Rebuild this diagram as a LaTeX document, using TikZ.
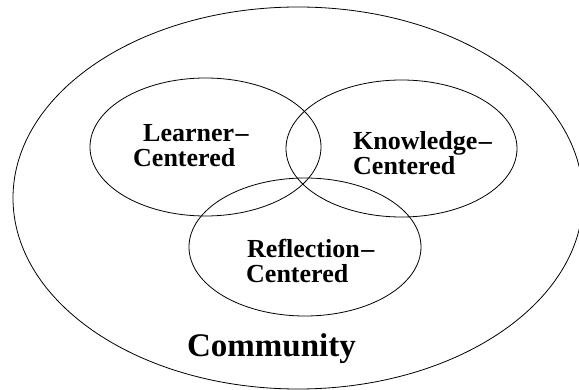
\documentclass[tikz,border=0pt]{standalone}
\usepackage{fontspec}
\setmainfont{Liberation Serif}
\usetikzlibrary{shapes.geometric}
\newcommand{\hyph}{\kern1.5pt–}
\begin{document}
\begin{tikzpicture}[x=1pt,y=-1pt,
  ring/.style={draw=black, line width=0.8pt, ellipse, inner sep=0pt},
  area/.style={ring, minimum width=231pt, minimum height=138pt},
  lbl/.style={font=\fontsize{26}{28}\selectfont\bfseries, inner sep=0pt, anchor=base west},
  title/.style={font=\fontsize{33}{35}\selectfont\bfseries, inner sep=0pt, anchor=base}]
  \useasboundingbox (0,0) rectangle (579,390);
  \clip (0,0) rectangle (579,390);

  % community boundary
  \node[ring, minimum width=570pt, minimum height=382pt] (community) at (298,198) {};

  % the three overlapping areas
  \node[area] (learner) at (205.5,147) {};
  \node[area, minimum height=137pt] (knowledge) at (401.5,148.5) {};
  \node[area, minimum width=232pt] (reflection) at (305,247) {};

  % labels
  \node[lbl] (learnerA) at (143,142) {Learner\hyph};
  \node[lbl] (learnerB) at (133,167) {Centered};
  \node[lbl] (knowledgeA) at (353,150) {Knowledge\hyph};
  \node[lbl] (knowledgeB) at (353,175) {Centered};
  \node[lbl] (reflectionA) at (247,258) {Reflection\hyph};
  \node[lbl] (reflectionB) at (246,283) {Centered};
  \node[title] (communityLabel) at (271.5,357) {Community};
\end{tikzpicture}
\end{document}
